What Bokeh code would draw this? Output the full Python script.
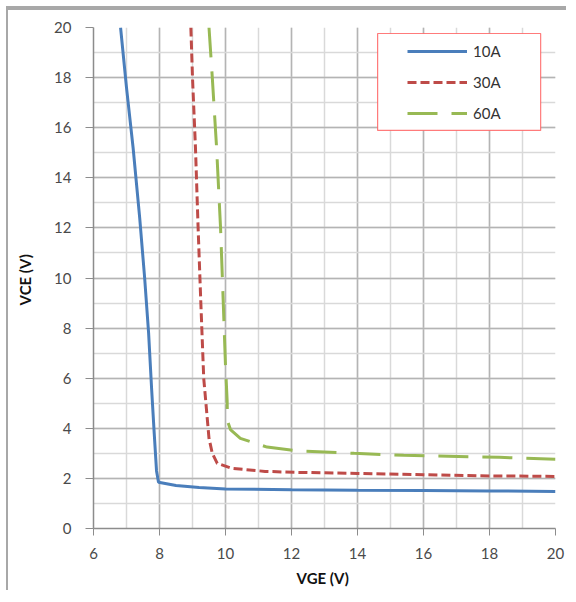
from bokeh.plotting import figure
from bokeh.models import Legend, LegendItem, SingleIntervalTicker, BoxAnnotation
from bokeh.embed import file_html
from bokeh.resources import INLINE

# ---- data ----
vge_10a = [6.82, 7.0, 7.2, 7.4, 7.55, 7.67, 7.76, 7.84, 7.91, 7.97, 8.5, 9.2, 10.0, 12.0, 14.0, 16.0, 18.0, 20.0]
vce_10a = [20.0, 17.6, 15.2, 12.4, 10.0, 7.8, 5.6, 3.8, 2.3, 1.85, 1.72, 1.64, 1.58, 1.55, 1.53, 1.52, 1.5, 1.48]

vge_30a = [8.95, 9.0, 9.09, 9.17, 9.25, 9.34, 9.4, 9.5, 9.6, 9.75, 10.2, 11.2, 12.2, 14.0, 16.0, 18.0, 20.0]
vce_30a = [20.0, 18.0, 15.2, 12.0, 9.1, 6.0, 5.1, 3.6, 3.0, 2.6, 2.4, 2.28, 2.24, 2.2, 2.15, 2.1, 2.08]

vge_60a = [9.5, 9.6, 9.73, 9.85, 9.93, 10.0, 10.05, 10.06, 10.15, 10.45, 11.26, 12.27, 13.9, 15.4, 18.3, 20.0]
vce_60a = [20.0, 18.0, 15.2, 12.0, 9.1, 6.5, 5.1, 4.3, 3.95, 3.6, 3.25, 3.09, 3.0, 2.92, 2.84, 2.76]

series_names = ["10A", "30A", "60A"]

FONT = "Lato"

p = figure(width=560, height=584, x_range=(6, 20), y_range=(0, 20),
           output_backend="svg", toolbar_location=None,
           min_border_left=85, min_border_right=13, min_border_top=17, min_border_bottom=66)
p.styles = {"margin-top": "6px", "margin-left": "6px",
            "border-top": "4px solid #a8a8a8", "border-left": "2px solid #a8a8a8"}

p.outline_line_color = None
p.background_fill_color = "white"
p.border_fill_color = "white"

# axes
p.xaxis.ticker = SingleIntervalTicker(interval=2, num_minor_ticks=2)
p.yaxis.ticker = SingleIntervalTicker(interval=2, num_minor_ticks=2)
for ax in (p.xaxis, p.yaxis):
    ax.axis_line_color = "#8c8c8c"
    ax.axis_line_width = 1.5
    ax.major_tick_line_color = "#8c8c8c"
    ax.major_tick_in = 0
    ax.minor_tick_out = 0
    ax.minor_tick_in = 0
    ax.major_label_text_font = FONT
    ax.major_label_text_font_size = "15px"
    ax.major_label_text_color = "#4a4a4a"
    ax.axis_label_text_font = FONT
    ax.axis_label_text_font_size = "15px"
    ax.axis_label_text_font_style = "bold"
    ax.axis_label_text_color = "#111111"
p.xaxis.major_tick_out = 7
p.yaxis.major_tick_out = 8
p.xaxis.major_label_standoff = 12
p.yaxis.major_label_standoff = 14
p.xaxis.axis_label = "VGE  (V)"
p.yaxis.axis_label = "VCE  (V)"
p.xaxis.axis_label_standoff = 7
p.yaxis.axis_label_standoff = 17

# grids
for g in (p.xgrid, p.ygrid):
    g.grid_line_color = "#b4b4b4"
    g.grid_line_width = 1.5
    g.minor_grid_line_color = "#d9d9d9"
    g.minor_grid_line_width = 1.5

# legend backdrop box (white with red frame)
box = BoxAnnotation(left=14.61, right=19.55, top=19.76, bottom=15.89,
                    fill_color="white", fill_alpha=1.0,
                    line_color="#ff5a5a", line_width=1.2, line_alpha=0.8)
p.add_layout(box)

r1 = p.line(vge_10a, vce_10a, line_color="#4a7ebb", line_width=3)
r2 = p.line(vge_30a, vce_30a, line_color="#be4b48", line_width=3, line_dash="9 4")
r3 = p.line(vge_60a, vce_60a, line_color="#98b954", line_width=3, line_dash="30 14")

legend = Legend(items=[LegendItem(label=series_names[0], renderers=[r1]),
                       LegendItem(label=series_names[1], renderers=[r2]),
                       LegendItem(label=series_names[2], renderers=[r3])],
                location=(314, 405), padding=10, spacing=11,
                glyph_width=60, glyph_height=20, label_height=20,
                label_standoff=6, label_text_font=FONT, label_text_font_size="15px",
                label_text_color="#333333",
                border_line_color=None, background_fill_alpha=0.0)
p.add_layout(legend)

open("out.html", "w").write(file_html(p, INLINE))
